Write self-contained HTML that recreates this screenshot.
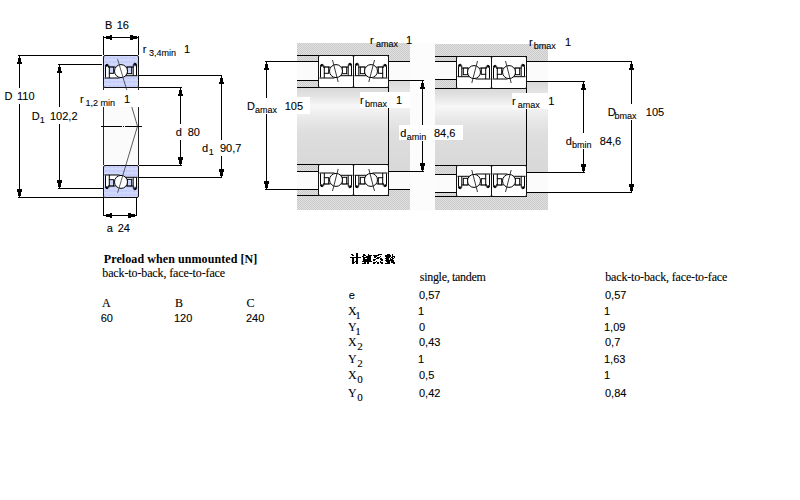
<!DOCTYPE html>
<html><head><meta charset="utf-8">
<style>
html,body{margin:0;padding:0;background:#fff;width:800px;height:500px;overflow:hidden}
svg{position:absolute;left:0;top:0}
.t{position:absolute;white-space:nowrap;color:#000;line-height:1}
.sf{font-family:"Liberation Serif",serif;font-size:12px}
.ss{font-family:"Liberation Sans",sans-serif;font-size:11px}
</style></head><body>
<svg width="800" height="500" viewBox="0 0 800 500" shape-rendering="crispEdges" text-rendering="optimizeSpeed">
<defs>
<pattern id="lav" x="0" y="0" width="4" height="4" patternUnits="userSpaceOnUse"><rect width="4" height="4" fill="#cfcffc"/><rect width="1" height="1" fill="#c4fcfc"/><rect x="2" y="2" width="1" height="1" fill="#9cc8fc"/><rect x="2" y="0" width="1" height="1" fill="#dcf4fc"/></pattern>
<pattern id="chk" x="0" y="0" width="2" height="2" patternUnits="userSpaceOnUse"><rect width="2" height="2" fill="#e0e0e0"/><rect width="1" height="1" fill="#cbcbcb"/><rect x="1" y="1" width="1" height="1" fill="#cbcbcb"/></pattern>
<linearGradient id="shaft" x1="0" y1="0" x2="0" y2="1">
<stop offset="0" stop-color="#d8d8d8"/><stop offset="0.1" stop-color="#e2e2e2"/><stop offset="0.24" stop-color="#f7f7f7"/><stop offset="0.4" stop-color="#e9e9e9"/><stop offset="0.58" stop-color="#dedede"/><stop offset="1" stop-color="#d8d8d8"/>
</linearGradient>
</defs>
<line x1="18" y1="55.5" x2="102" y2="55.5" stroke="#000" stroke-width="1" />
<line x1="19.5" y1="56" x2="19.5" y2="88" stroke="#000" stroke-width="1" />
<line x1="19.5" y1="104" x2="19.5" y2="197" stroke="#000" stroke-width="1" />
<line x1="18" y1="197.5" x2="103" y2="197.5" stroke="#000" stroke-width="1" />
<polygon points="19.0,56.0 20.0,56.0 20.0,57.5 21.0,57.5 21.0,61.5 22.0,61.5 22.0,64.0 17.0,64.0 17.0,61.5 18.0,61.5 18.0,57.5 19.0,57.5" fill="#000"/>
<polygon points="19.0,197.0 20.0,197.0 20.0,195.5 21.0,195.5 21.0,191.5 22.0,191.5 22.0,189.0 17.0,189.0 17.0,191.5 18.0,191.5 18.0,195.5 19.0,195.5" fill="#000"/>
<line x1="58" y1="64.5" x2="102" y2="64.5" stroke="#000" stroke-width="1" />
<line x1="59.5" y1="65" x2="59.5" y2="107" stroke="#000" stroke-width="1" />
<line x1="59.5" y1="124" x2="59.5" y2="188" stroke="#000" stroke-width="1" />
<line x1="58" y1="188.5" x2="103" y2="188.5" stroke="#000" stroke-width="1" />
<polygon points="59.0,65.0 60.0,65.0 60.0,66.5 61.0,66.5 61.0,70.5 62.0,70.5 62.0,73.0 57.0,73.0 57.0,70.5 58.0,70.5 58.0,66.5 59.0,66.5" fill="#000"/>
<polygon points="59.0,188.0 60.0,188.0 60.0,186.5 61.0,186.5 61.0,182.5 62.0,182.5 62.0,180.0 57.0,180.0 57.0,182.5 58.0,182.5 58.0,186.5 59.0,186.5" fill="#000"/>
<line x1="103.5" y1="36" x2="103.5" y2="55" stroke="#000" stroke-width="1" />
<line x1="138.5" y1="36" x2="138.5" y2="55" stroke="#000" stroke-width="1" />
<line x1="104" y1="37.5" x2="138" y2="37.5" stroke="#000" stroke-width="1" />
<polygon points="104.0,37.0 104.0,38.0 105.5,38.0 105.5,39.0 109.5,39.0 109.5,40.0 112.0,40.0 112.0,35.0 109.5,35.0 109.5,36.0 105.5,36.0 105.5,37.0" fill="#000"/>
<polygon points="138.0,37.0 138.0,38.0 136.5,38.0 136.5,39.0 132.5,39.0 132.5,40.0 130.0,40.0 130.0,35.0 132.5,35.0 132.5,36.0 136.5,36.0 136.5,37.0" fill="#000"/>
<rect x="104" y="88" width="34" height="77" fill="#fbfbfb" />
<line x1="103.5" y1="87" x2="103.5" y2="165" stroke="#222" stroke-width="1" />
<line x1="138.5" y1="87" x2="138.5" y2="165" stroke="#222" stroke-width="1" />
<line x1="101" y1="126.5" x2="122" y2="126.5" stroke="#000" stroke-width="1" />
<line x1="123" y1="126.5" x2="124" y2="126.5" stroke="#000" stroke-width="1" />
<line x1="125" y1="126.5" x2="142" y2="126.5" stroke="#000" stroke-width="1" />
<line x1="103.5" y1="197" x2="103.5" y2="216" stroke="#000" stroke-width="1" />
<line x1="136.5" y1="197" x2="136.5" y2="216" stroke="#000" stroke-width="1" />
<line x1="104" y1="215.5" x2="136" y2="215.5" stroke="#000" stroke-width="1" />
<polygon points="104.0,215.0 104.0,216.0 105.5,216.0 105.5,217.0 109.5,217.0 109.5,218.0 112.0,218.0 112.0,213.0 109.5,213.0 109.5,214.0 105.5,214.0 105.5,215.0" fill="#000"/>
<polygon points="136.0,215.0 136.0,216.0 134.5,216.0 134.5,217.0 130.5,217.0 130.5,218.0 128.0,218.0 128.0,213.0 130.5,213.0 130.5,214.0 134.5,214.0 134.5,215.0" fill="#000"/>
<line x1="139" y1="75.5" x2="222" y2="75.5" stroke="#000" stroke-width="1" />
<line x1="221.5" y1="76" x2="221.5" y2="140" stroke="#000" stroke-width="1" />
<line x1="221.5" y1="156" x2="221.5" y2="177" stroke="#000" stroke-width="1" />
<line x1="139" y1="177.5" x2="222" y2="177.5" stroke="#000" stroke-width="1" />
<polygon points="221.0,76.0 222.0,76.0 222.0,77.5 223.0,77.5 223.0,81.5 224.0,81.5 224.0,84.0 219.0,84.0 219.0,81.5 220.0,81.5 220.0,77.5 221.0,77.5" fill="#000"/>
<polygon points="221.0,177.0 222.0,177.0 222.0,175.5 223.0,175.5 223.0,171.5 224.0,171.5 224.0,169.0 219.0,169.0 219.0,171.5 220.0,171.5 220.0,175.5 221.0,175.5" fill="#000"/>
<line x1="139" y1="87.5" x2="182" y2="87.5" stroke="#000" stroke-width="1" />
<line x1="180.5" y1="88" x2="180.5" y2="124" stroke="#000" stroke-width="1" />
<line x1="180.5" y1="140" x2="180.5" y2="165" stroke="#000" stroke-width="1" />
<line x1="139" y1="165.5" x2="182" y2="165.5" stroke="#000" stroke-width="1" />
<polygon points="180.0,88.0 181.0,88.0 181.0,89.5 182.0,89.5 182.0,93.5 183.0,93.5 183.0,96.0 178.0,96.0 178.0,93.5 179.0,93.5 179.0,89.5 180.0,89.5" fill="#000"/>
<polygon points="180.0,165.0 181.0,165.0 181.0,163.5 182.0,163.5 182.0,159.5 183.0,159.5 183.0,157.0 178.0,157.0 178.0,159.5 179.0,159.5 179.0,163.5 180.0,163.5" fill="#000"/>
<g transform="translate(103.5,55.5)" shape-rendering="geometricPrecision">
<rect x="0" y="0" width="35" height="32" rx="1.5" fill="url(#lav)" stroke="#111" stroke-width="1"/>
<path d="M1,11.6 H17.5 V22.5 H1 Z M17.5,11.6 H34 V20.2 H17.5 Z" fill="#fff"/>
<path d="M4.5,11.6 H12 M23,11.6 H30 M1,22.5 H16 M20,20.2 H34" stroke="#000" stroke-width="1" fill="none"/>
<path d="M2,22 V11 Q2,8.6 4.2,8.8 Q5.6,9.6 5.3,11.6" stroke="#000" stroke-width="1" fill="none"/>
<circle cx="3.2" cy="10" r="1.3" fill="#000"/>
<path d="M33,20 V9.8 Q33,7.4 30.8,7.7 Q29.4,8.6 29.7,11.6 V20" stroke="#000" stroke-width="1" fill="none"/>
<circle cx="31.8" cy="9" r="1.3" fill="#000"/>
<rect x="5.8" y="11.6" width="4.4" height="6.2" fill="url(#lav)" stroke="#000" stroke-width="1"/>
<rect x="23.6" y="11.6" width="4.6" height="6.6" fill="url(#lav)" stroke="#000" stroke-width="1"/>
<path d="M5.8,17.8 V22.5" stroke="#000" stroke-width="1" fill="none"/>
<circle cx="17.5" cy="15.6" r="6.5" fill="#fff" stroke="#000" stroke-width="1"/>
</g>
<g transform="translate(103.5,165.5) translate(0,32) scale(1,-1)" shape-rendering="geometricPrecision">
<rect x="0" y="0" width="35" height="32" rx="1.5" fill="url(#lav)" stroke="#111" stroke-width="1"/>
<path d="M1,11.6 H17.5 V22.5 H1 Z M17.5,11.6 H34 V20.2 H17.5 Z" fill="#fff"/>
<path d="M4.5,11.6 H12 M23,11.6 H30 M1,22.5 H16 M20,20.2 H34" stroke="#000" stroke-width="1" fill="none"/>
<path d="M2,22 V11 Q2,8.6 4.2,8.8 Q5.6,9.6 5.3,11.6" stroke="#000" stroke-width="1" fill="none"/>
<circle cx="3.2" cy="10" r="1.3" fill="#000"/>
<path d="M33,20 V9.8 Q33,7.4 30.8,7.7 Q29.4,8.6 29.7,11.6 V20" stroke="#000" stroke-width="1" fill="none"/>
<circle cx="31.8" cy="9" r="1.3" fill="#000"/>
<rect x="5.8" y="11.6" width="4.4" height="6.2" fill="url(#lav)" stroke="#000" stroke-width="1"/>
<rect x="23.6" y="11.6" width="4.6" height="6.6" fill="url(#lav)" stroke="#000" stroke-width="1"/>
<path d="M5.8,17.8 V22.5" stroke="#000" stroke-width="1" fill="none"/>
<circle cx="17.5" cy="15.6" r="6.5" fill="#fff" stroke="#000" stroke-width="1"/>
</g>
<polyline points="117.6,59.2 137.5,126.2 117.6,192.8" fill="none" stroke="#333" stroke-width="0.8" shape-rendering="geometricPrecision"/>
<rect x="100" y="90" width="40" height="17" fill="#fff" />
<text x="104.9" y="29" font-family="Liberation Sans" font-size="11" font-weight="normal" stroke="#000" stroke-width="0.1" >B</text>
<text x="116.75" y="29" font-family="Liberation Sans" font-size="11" font-weight="normal" stroke="#000" stroke-width="0.1" >16</text>
<text x="142.8" y="53" font-family="Liberation Sans" font-size="11" font-weight="normal" stroke="#000" stroke-width="0.1" >r</text>
<text x="148.9" y="56" font-family="Liberation Sans" font-size="9" font-weight="normal" stroke="#000" stroke-width="0.1" >3,4min</text>
<text x="184" y="53" font-family="Liberation Sans" font-size="11" font-weight="normal" stroke="#000" stroke-width="0.1" >1</text>
<text x="4.5" y="100" font-family="Liberation Sans" font-size="11" font-weight="normal" stroke="#000" stroke-width="0.1" >D</text>
<text x="17" y="100" font-family="Liberation Sans" font-size="11" font-weight="normal" stroke="#000" stroke-width="0.1" >110</text>
<text x="31.8" y="120" font-family="Liberation Sans" font-size="11" font-weight="normal" stroke="#000" stroke-width="0.1" >D</text>
<text x="39.7" y="123" font-family="Liberation Sans" font-size="9" font-weight="normal" stroke="#000" stroke-width="0.1" >1</text>
<text x="50" y="120" font-family="Liberation Sans" font-size="11" font-weight="normal" stroke="#000" stroke-width="0.1" >102,2</text>
<text x="79.9" y="103" font-family="Liberation Sans" font-size="11" font-weight="normal" stroke="#000" stroke-width="0.1" >r</text>
<text x="85.6" y="106" font-family="Liberation Sans" font-size="9" font-weight="normal" stroke="#000" stroke-width="0.1" >1,2 min</text>
<text x="124" y="103" font-family="Liberation Sans" font-size="11" font-weight="normal" stroke="#000" stroke-width="0.1" >1</text>
<text x="175.75" y="136" font-family="Liberation Sans" font-size="11" font-weight="normal" stroke="#000" stroke-width="0.1" >d</text>
<text x="187.75" y="136" font-family="Liberation Sans" font-size="11" font-weight="normal" stroke="#000" stroke-width="0.1" >80</text>
<text x="201.9" y="152" font-family="Liberation Sans" font-size="11" font-weight="normal" stroke="#000" stroke-width="0.1" >d</text>
<text x="208.75" y="155" font-family="Liberation Sans" font-size="9" font-weight="normal" stroke="#000" stroke-width="0.1" >1</text>
<text x="219.9" y="152" font-family="Liberation Sans" font-size="11" font-weight="normal" stroke="#000" stroke-width="0.1" >90,7</text>
<text x="106.75" y="232" font-family="Liberation Sans" font-size="11" font-weight="normal" stroke="#000" stroke-width="0.1" >a</text>
<text x="117.75" y="232" font-family="Liberation Sans" font-size="11" font-weight="normal" stroke="#000" stroke-width="0.1" >24</text>
<rect x="410" y="43" width="25" height="167" fill="#fcfcfc" />
<rect x="297" y="43" width="113" height="12.5" fill="url(#chk)" />
<rect x="297" y="55.5" width="21.5" height="6" fill="url(#chk)" />
<rect x="388.5" y="55.5" width="21.5" height="6" fill="url(#chk)" />
<rect x="297" y="80.5" width="21.5" height="7" fill="url(#chk)" />
<rect x="297" y="61.5" width="21.5" height="19" fill="#fbfbfb" />
<rect x="388.5" y="61.5" width="21.5" height="19" fill="#fbfbfb" />
<rect x="297" y="87.5" width="91.5" height="77" fill="url(#shaft)" />
<rect x="388.5" y="80.5" width="21.5" height="91" fill="url(#shaft)" />
<rect x="297" y="164.5" width="21.5" height="7" fill="url(#chk)" />
<rect x="297" y="171.5" width="21.5" height="18" fill="#fbfbfb" />
<rect x="388.5" y="171.5" width="21.5" height="18" fill="#fbfbfb" />
<rect x="297" y="189.5" width="21.5" height="6" fill="url(#chk)" />
<rect x="388.5" y="189.5" width="21.5" height="6" fill="url(#chk)" />
<rect x="297" y="195.5" width="113" height="14" fill="url(#chk)" />
<line x1="297" y1="55.5" x2="389" y2="55.5" stroke="#000" stroke-width="1" />
<line x1="265" y1="61.5" x2="318.5" y2="61.5" stroke="#000" stroke-width="1" />
<line x1="388.5" y1="61.5" x2="410" y2="61.5" stroke="#000" stroke-width="1" />
<line x1="297" y1="80.5" x2="318.5" y2="80.5" stroke="#000" stroke-width="1" />
<line x1="388.5" y1="80.5" x2="424" y2="80.5" stroke="#000" stroke-width="1" />
<line x1="297" y1="87.5" x2="389" y2="87.5" stroke="#000" stroke-width="1" />
<line x1="388.5" y1="55" x2="388.5" y2="172" stroke="#000" stroke-width="1" />
<line x1="297" y1="164.5" x2="389" y2="164.5" stroke="#000" stroke-width="1" />
<line x1="297" y1="171.5" x2="318.5" y2="171.5" stroke="#000" stroke-width="1" />
<line x1="388.5" y1="171.5" x2="424" y2="171.5" stroke="#000" stroke-width="1" />
<line x1="265" y1="189.5" x2="318.5" y2="189.5" stroke="#000" stroke-width="1" />
<line x1="388.5" y1="189.5" x2="410" y2="189.5" stroke="#000" stroke-width="1" />
<line x1="297" y1="195.5" x2="389" y2="195.5" stroke="#000" stroke-width="1" />
<g transform="translate(318.5,55.5)" shape-rendering="geometricPrecision">
<rect x="0" y="0" width="35" height="32" rx="1.5" fill="#fff" stroke="#111" stroke-width="1"/>
<path d="M4.5,11.6 H12 M23,11.6 H30 M1,22.5 H16 M20,20.2 H34" stroke="#000" stroke-width="1" fill="none"/>
<path d="M2,22 V11 Q2,8.6 4.2,8.8 Q5.6,9.6 5.3,11.6" stroke="#000" stroke-width="1" fill="none"/>
<circle cx="3.2" cy="10" r="1.3" fill="#000"/>
<path d="M33,20 V9.8 Q33,7.4 30.8,7.7 Q29.4,8.6 29.7,11.6 V20" stroke="#000" stroke-width="1" fill="none"/>
<circle cx="31.8" cy="9" r="1.3" fill="#000"/>
<rect x="5.8" y="11.6" width="4.4" height="6.2" fill="#fff" stroke="#000" stroke-width="1"/>
<rect x="23.6" y="11.6" width="4.6" height="6.6" fill="#fff" stroke="#000" stroke-width="1"/>
<path d="M5.8,17.8 V22.5" stroke="#000" stroke-width="1" fill="none"/>
<circle cx="17.5" cy="15.6" r="6.5" fill="#fff" stroke="#000" stroke-width="1"/>
<line x1="14" y1="4.5" x2="19.7" y2="26.5" stroke="#222" stroke-width="0.9"/>
</g>
<g transform="translate(353.5,55.5) translate(35,0) scale(-1,1)" shape-rendering="geometricPrecision">
<rect x="0" y="0" width="35" height="32" rx="1.5" fill="#fff" stroke="#111" stroke-width="1"/>
<path d="M4.5,11.6 H12 M23,11.6 H30 M1,22.5 H16 M20,20.2 H34" stroke="#000" stroke-width="1" fill="none"/>
<path d="M2,22 V11 Q2,8.6 4.2,8.8 Q5.6,9.6 5.3,11.6" stroke="#000" stroke-width="1" fill="none"/>
<circle cx="3.2" cy="10" r="1.3" fill="#000"/>
<path d="M33,20 V9.8 Q33,7.4 30.8,7.7 Q29.4,8.6 29.7,11.6 V20" stroke="#000" stroke-width="1" fill="none"/>
<circle cx="31.8" cy="9" r="1.3" fill="#000"/>
<rect x="5.8" y="11.6" width="4.4" height="6.2" fill="#fff" stroke="#000" stroke-width="1"/>
<rect x="23.6" y="11.6" width="4.6" height="6.6" fill="#fff" stroke="#000" stroke-width="1"/>
<path d="M5.8,17.8 V22.5" stroke="#000" stroke-width="1" fill="none"/>
<circle cx="17.5" cy="15.6" r="6.5" fill="#fff" stroke="#000" stroke-width="1"/>
<line x1="14" y1="4.5" x2="19.7" y2="26.5" stroke="#222" stroke-width="0.9"/>
</g>
<g transform="translate(318.5,164.5) translate(0,31) scale(1,-1)" shape-rendering="geometricPrecision">
<rect x="0" y="0" width="35" height="31" rx="1.5" fill="#fff" stroke="#111" stroke-width="1"/>
<path d="M4.5,11.6 H12 M23,11.6 H30 M1,22.5 H16 M20,20.2 H34" stroke="#000" stroke-width="1" fill="none"/>
<path d="M2,22 V11 Q2,8.6 4.2,8.8 Q5.6,9.6 5.3,11.6" stroke="#000" stroke-width="1" fill="none"/>
<circle cx="3.2" cy="10" r="1.3" fill="#000"/>
<path d="M33,20 V9.8 Q33,7.4 30.8,7.7 Q29.4,8.6 29.7,11.6 V20" stroke="#000" stroke-width="1" fill="none"/>
<circle cx="31.8" cy="9" r="1.3" fill="#000"/>
<rect x="5.8" y="11.6" width="4.4" height="6.2" fill="#fff" stroke="#000" stroke-width="1"/>
<rect x="23.6" y="11.6" width="4.6" height="6.6" fill="#fff" stroke="#000" stroke-width="1"/>
<path d="M5.8,17.8 V22.5" stroke="#000" stroke-width="1" fill="none"/>
<circle cx="17.5" cy="15.6" r="6.5" fill="#fff" stroke="#000" stroke-width="1"/>
<line x1="14" y1="4.5" x2="19.7" y2="26.5" stroke="#222" stroke-width="0.9"/>
</g>
<g transform="translate(353.5,164.5) translate(0,31) scale(1,-1) translate(35,0) scale(-1,1)" shape-rendering="geometricPrecision">
<rect x="0" y="0" width="35" height="31" rx="1.5" fill="#fff" stroke="#111" stroke-width="1"/>
<path d="M4.5,11.6 H12 M23,11.6 H30 M1,22.5 H16 M20,20.2 H34" stroke="#000" stroke-width="1" fill="none"/>
<path d="M2,22 V11 Q2,8.6 4.2,8.8 Q5.6,9.6 5.3,11.6" stroke="#000" stroke-width="1" fill="none"/>
<circle cx="3.2" cy="10" r="1.3" fill="#000"/>
<path d="M33,20 V9.8 Q33,7.4 30.8,7.7 Q29.4,8.6 29.7,11.6 V20" stroke="#000" stroke-width="1" fill="none"/>
<circle cx="31.8" cy="9" r="1.3" fill="#000"/>
<rect x="5.8" y="11.6" width="4.4" height="6.2" fill="#fff" stroke="#000" stroke-width="1"/>
<rect x="23.6" y="11.6" width="4.6" height="6.6" fill="#fff" stroke="#000" stroke-width="1"/>
<path d="M5.8,17.8 V22.5" stroke="#000" stroke-width="1" fill="none"/>
<circle cx="17.5" cy="15.6" r="6.5" fill="#fff" stroke="#000" stroke-width="1"/>
<line x1="14" y1="4.5" x2="19.7" y2="26.5" stroke="#222" stroke-width="0.9"/>
</g>
<line x1="266.5" y1="62" x2="266.5" y2="97.5" stroke="#000" stroke-width="1" />
<line x1="266.5" y1="114" x2="266.5" y2="189" stroke="#000" stroke-width="1" />
<polygon points="266.0,62.0 267.0,62.0 267.0,63.5 268.0,63.5 268.0,67.5 269.0,67.5 269.0,70.0 264.0,70.0 264.0,67.5 265.0,67.5 265.0,63.5 266.0,63.5" fill="#000"/>
<polygon points="266.0,189.0 267.0,189.0 267.0,187.5 268.0,187.5 268.0,183.5 269.0,183.5 269.0,181.0 264.0,181.0 264.0,183.5 265.0,183.5 265.0,187.5 266.0,187.5" fill="#000"/>
<line x1="422.5" y1="81" x2="422.5" y2="128" stroke="#000" stroke-width="1" />
<line x1="422.5" y1="141" x2="422.5" y2="171" stroke="#000" stroke-width="1" />
<polygon points="422.0,81.0 423.0,81.0 423.0,82.5 424.0,82.5 424.0,86.5 425.0,86.5 425.0,89.0 420.0,89.0 420.0,86.5 421.0,86.5 421.0,82.5 422.0,82.5" fill="#000"/>
<polygon points="422.0,171.0 423.0,171.0 423.0,169.5 424.0,169.5 424.0,165.5 425.0,165.5 425.0,163.0 420.0,163.0 420.0,165.5 421.0,165.5 421.0,169.5 422.0,169.5" fill="#000"/>
<rect x="435" y="44" width="113" height="12.5" fill="url(#chk)" />
<rect x="435" y="56.5" width="21.5" height="5" fill="url(#chk)" />
<rect x="527" y="56.5" width="21" height="5" fill="url(#chk)" />
<rect x="435" y="61.5" width="21.5" height="18" fill="#fbfbfb" />
<rect x="527" y="61.5" width="21" height="20" fill="#fbfbfb" />
<rect x="435" y="79.5" width="21.5" height="8.5" fill="url(#chk)" />
<rect x="435" y="88" width="92" height="77" fill="url(#shaft)" />
<rect x="527" y="81.5" width="21" height="91" fill="url(#shaft)" />
<rect x="435" y="165.5" width="21.5" height="9" fill="url(#chk)" />
<rect x="435" y="174" width="21.5" height="18.5" fill="#fbfbfb" />
<rect x="527" y="172.5" width="21" height="19.5" fill="#fbfbfb" />
<rect x="435" y="192.5" width="21.5" height="4" fill="url(#chk)" />
<rect x="527" y="192" width="21" height="5" fill="url(#chk)" />
<rect x="435" y="196.5" width="113" height="13" fill="url(#chk)" />
<line x1="435" y1="56.5" x2="527" y2="56.5" stroke="#000" stroke-width="1" />
<line x1="435" y1="61.5" x2="456.5" y2="61.5" stroke="#000" stroke-width="1" />
<line x1="526.5" y1="61.5" x2="632" y2="61.5" stroke="#000" stroke-width="1" />
<line x1="435" y1="79.5" x2="456.5" y2="79.5" stroke="#000" stroke-width="1" />
<line x1="526.5" y1="81.5" x2="585" y2="81.5" stroke="#000" stroke-width="1" />
<line x1="435" y1="88.5" x2="527" y2="88.5" stroke="#000" stroke-width="1" />
<line x1="526.5" y1="56" x2="526.5" y2="172" stroke="#000" stroke-width="1" />
<line x1="435" y1="165.5" x2="527" y2="165.5" stroke="#000" stroke-width="1" />
<line x1="435" y1="174.5" x2="456.5" y2="174.5" stroke="#000" stroke-width="1" />
<line x1="526.5" y1="172.5" x2="585" y2="172.5" stroke="#000" stroke-width="1" />
<line x1="435" y1="192.5" x2="456.5" y2="192.5" stroke="#000" stroke-width="1" />
<line x1="526.5" y1="192.5" x2="632" y2="192.5" stroke="#000" stroke-width="1" />
<line x1="435" y1="196.5" x2="527" y2="196.5" stroke="#000" stroke-width="1" />
<g transform="translate(456.5,56.5) translate(35,0) scale(-1,1)" shape-rendering="geometricPrecision">
<rect x="0" y="0" width="35" height="32" rx="1.5" fill="#fff" stroke="#111" stroke-width="1"/>
<path d="M4.5,11.6 H12 M23,11.6 H30 M1,22.5 H16 M20,20.2 H34" stroke="#000" stroke-width="1" fill="none"/>
<path d="M2,22 V11 Q2,8.6 4.2,8.8 Q5.6,9.6 5.3,11.6" stroke="#000" stroke-width="1" fill="none"/>
<circle cx="3.2" cy="10" r="1.3" fill="#000"/>
<path d="M33,20 V9.8 Q33,7.4 30.8,7.7 Q29.4,8.6 29.7,11.6 V20" stroke="#000" stroke-width="1" fill="none"/>
<circle cx="31.8" cy="9" r="1.3" fill="#000"/>
<rect x="5.8" y="11.6" width="4.4" height="6.2" fill="#fff" stroke="#000" stroke-width="1"/>
<rect x="23.6" y="11.6" width="4.6" height="6.6" fill="#fff" stroke="#000" stroke-width="1"/>
<path d="M5.8,17.8 V22.5" stroke="#000" stroke-width="1" fill="none"/>
<circle cx="17.5" cy="15.6" r="6.5" fill="#fff" stroke="#000" stroke-width="1"/>
<line x1="14" y1="4.5" x2="19.7" y2="26.5" stroke="#222" stroke-width="0.9"/>
</g>
<g transform="translate(491.5,56.5)" shape-rendering="geometricPrecision">
<rect x="0" y="0" width="35" height="32" rx="1.5" fill="#fff" stroke="#111" stroke-width="1"/>
<path d="M4.5,11.6 H12 M23,11.6 H30 M1,22.5 H16 M20,20.2 H34" stroke="#000" stroke-width="1" fill="none"/>
<path d="M2,22 V11 Q2,8.6 4.2,8.8 Q5.6,9.6 5.3,11.6" stroke="#000" stroke-width="1" fill="none"/>
<circle cx="3.2" cy="10" r="1.3" fill="#000"/>
<path d="M33,20 V9.8 Q33,7.4 30.8,7.7 Q29.4,8.6 29.7,11.6 V20" stroke="#000" stroke-width="1" fill="none"/>
<circle cx="31.8" cy="9" r="1.3" fill="#000"/>
<rect x="5.8" y="11.6" width="4.4" height="6.2" fill="#fff" stroke="#000" stroke-width="1"/>
<rect x="23.6" y="11.6" width="4.6" height="6.6" fill="#fff" stroke="#000" stroke-width="1"/>
<path d="M5.8,17.8 V22.5" stroke="#000" stroke-width="1" fill="none"/>
<circle cx="17.5" cy="15.6" r="6.5" fill="#fff" stroke="#000" stroke-width="1"/>
<line x1="14" y1="4.5" x2="19.7" y2="26.5" stroke="#222" stroke-width="0.9"/>
</g>
<g transform="translate(456.5,165.5) translate(0,31) scale(1,-1) translate(35,0) scale(-1,1)" shape-rendering="geometricPrecision">
<rect x="0" y="0" width="35" height="31" rx="1.5" fill="#fff" stroke="#111" stroke-width="1"/>
<path d="M4.5,11.6 H12 M23,11.6 H30 M1,22.5 H16 M20,20.2 H34" stroke="#000" stroke-width="1" fill="none"/>
<path d="M2,22 V11 Q2,8.6 4.2,8.8 Q5.6,9.6 5.3,11.6" stroke="#000" stroke-width="1" fill="none"/>
<circle cx="3.2" cy="10" r="1.3" fill="#000"/>
<path d="M33,20 V9.8 Q33,7.4 30.8,7.7 Q29.4,8.6 29.7,11.6 V20" stroke="#000" stroke-width="1" fill="none"/>
<circle cx="31.8" cy="9" r="1.3" fill="#000"/>
<rect x="5.8" y="11.6" width="4.4" height="6.2" fill="#fff" stroke="#000" stroke-width="1"/>
<rect x="23.6" y="11.6" width="4.6" height="6.6" fill="#fff" stroke="#000" stroke-width="1"/>
<path d="M5.8,17.8 V22.5" stroke="#000" stroke-width="1" fill="none"/>
<circle cx="17.5" cy="15.6" r="6.5" fill="#fff" stroke="#000" stroke-width="1"/>
<line x1="14" y1="4.5" x2="19.7" y2="26.5" stroke="#222" stroke-width="0.9"/>
</g>
<g transform="translate(491.5,165.5) translate(0,31) scale(1,-1)" shape-rendering="geometricPrecision">
<rect x="0" y="0" width="35" height="31" rx="1.5" fill="#fff" stroke="#111" stroke-width="1"/>
<path d="M4.5,11.6 H12 M23,11.6 H30 M1,22.5 H16 M20,20.2 H34" stroke="#000" stroke-width="1" fill="none"/>
<path d="M2,22 V11 Q2,8.6 4.2,8.8 Q5.6,9.6 5.3,11.6" stroke="#000" stroke-width="1" fill="none"/>
<circle cx="3.2" cy="10" r="1.3" fill="#000"/>
<path d="M33,20 V9.8 Q33,7.4 30.8,7.7 Q29.4,8.6 29.7,11.6 V20" stroke="#000" stroke-width="1" fill="none"/>
<circle cx="31.8" cy="9" r="1.3" fill="#000"/>
<rect x="5.8" y="11.6" width="4.4" height="6.2" fill="#fff" stroke="#000" stroke-width="1"/>
<rect x="23.6" y="11.6" width="4.6" height="6.6" fill="#fff" stroke="#000" stroke-width="1"/>
<path d="M5.8,17.8 V22.5" stroke="#000" stroke-width="1" fill="none"/>
<circle cx="17.5" cy="15.6" r="6.5" fill="#fff" stroke="#000" stroke-width="1"/>
<line x1="14" y1="4.5" x2="19.7" y2="26.5" stroke="#222" stroke-width="0.9"/>
</g>
<line x1="631.5" y1="62" x2="631.5" y2="104" stroke="#000" stroke-width="1" />
<line x1="631.5" y1="120" x2="631.5" y2="192" stroke="#000" stroke-width="1" />
<polygon points="631.0,62.0 632.0,62.0 632.0,63.5 633.0,63.5 633.0,67.5 634.0,67.5 634.0,70.0 629.0,70.0 629.0,67.5 630.0,67.5 630.0,63.5 631.0,63.5" fill="#000"/>
<polygon points="631.0,192.0 632.0,192.0 632.0,190.5 633.0,190.5 633.0,186.5 634.0,186.5 634.0,184.0 629.0,184.0 629.0,186.5 630.0,186.5 630.0,190.5 631.0,190.5" fill="#000"/>
<line x1="583.5" y1="82" x2="583.5" y2="133" stroke="#000" stroke-width="1" />
<line x1="583.5" y1="149" x2="583.5" y2="172" stroke="#000" stroke-width="1" />
<polygon points="583.0,82.0 584.0,82.0 584.0,83.5 585.0,83.5 585.0,87.5 586.0,87.5 586.0,90.0 581.0,90.0 581.0,87.5 582.0,87.5 582.0,83.5 583.0,83.5" fill="#000"/>
<polygon points="583.0,172.0 584.0,172.0 584.0,170.5 585.0,170.5 585.0,166.5 586.0,166.5 586.0,164.0 581.0,164.0 581.0,166.5 582.0,166.5 582.0,170.5 583.0,170.5" fill="#000"/>
<rect x="280" y="97" width="30" height="17" fill="#fff" />
<rect x="360" y="92" width="50" height="16" fill="#fff" />
<rect x="399" y="125" width="64" height="15" fill="#fff" />
<rect x="512" y="93" width="44" height="16" fill="#fff" />
<text x="369.9" y="44" font-family="Liberation Sans" font-size="11" font-weight="normal" stroke="#000" stroke-width="0.1" >r</text>
<text x="375.9" y="47" font-family="Liberation Sans" font-size="9" font-weight="normal" stroke="#000" stroke-width="0.1" >amax</text>
<text x="405.9" y="44" font-family="Liberation Sans" font-size="11" font-weight="normal" stroke="#000" stroke-width="0.1" >1</text>
<text x="528.9" y="46" font-family="Liberation Sans" font-size="11" font-weight="normal" stroke="#000" stroke-width="0.1" >r</text>
<text x="533.7" y="49" font-family="Liberation Sans" font-size="9" font-weight="normal" stroke="#000" stroke-width="0.1" >bmax</text>
<text x="564.9" y="46" font-family="Liberation Sans" font-size="11" font-weight="normal" stroke="#000" stroke-width="0.1" >1</text>
<text x="247" y="110" font-family="Liberation Sans" font-size="11" font-weight="normal" stroke="#000" stroke-width="0.1" >D</text>
<text x="255" y="113" font-family="Liberation Sans" font-size="9" font-weight="normal" stroke="#000" stroke-width="0.1" >amax</text>
<text x="284.7" y="110" font-family="Liberation Sans" font-size="11" font-weight="normal" stroke="#000" stroke-width="0.1" >105</text>
<text x="360" y="104" font-family="Liberation Sans" font-size="11" font-weight="normal" stroke="#000" stroke-width="0.1" >r</text>
<text x="364.9" y="107" font-family="Liberation Sans" font-size="9" font-weight="normal" stroke="#000" stroke-width="0.1" >bmax</text>
<text x="396" y="104" font-family="Liberation Sans" font-size="11" font-weight="normal" stroke="#000" stroke-width="0.1" >1</text>
<text x="400.2" y="137" font-family="Liberation Sans" font-size="11" font-weight="normal" stroke="#000" stroke-width="0.1" >d</text>
<text x="406.7" y="140" font-family="Liberation Sans" font-size="9" font-weight="normal" stroke="#000" stroke-width="0.1" >amin</text>
<text x="433.9" y="137" font-family="Liberation Sans" font-size="11" font-weight="normal" stroke="#000" stroke-width="0.1" >84,6</text>
<text x="511.9" y="105" font-family="Liberation Sans" font-size="11" font-weight="normal" stroke="#000" stroke-width="0.1" >r</text>
<text x="517.75" y="108" font-family="Liberation Sans" font-size="9" font-weight="normal" stroke="#000" stroke-width="0.1" >amax</text>
<text x="548.25" y="105" font-family="Liberation Sans" font-size="11" font-weight="normal" stroke="#000" stroke-width="0.1" >1</text>
<text x="607.75" y="116" font-family="Liberation Sans" font-size="11" font-weight="normal" stroke="#000" stroke-width="0.1" >D</text>
<text x="614.6" y="119" font-family="Liberation Sans" font-size="9" font-weight="normal" stroke="#000" stroke-width="0.1" >bmax</text>
<text x="645.8" y="116" font-family="Liberation Sans" font-size="11" font-weight="normal" stroke="#000" stroke-width="0.1" >105</text>
<text x="565.7" y="145" font-family="Liberation Sans" font-size="11" font-weight="normal" stroke="#000" stroke-width="0.1" >d</text>
<text x="572" y="148" font-family="Liberation Sans" font-size="9" font-weight="normal" stroke="#000" stroke-width="0.1" >bmin</text>
<text x="599.8" y="145" font-family="Liberation Sans" font-size="11" font-weight="normal" stroke="#000" stroke-width="0.1" >84,6</text>
<text x="103.85" y="263" font-family="Liberation Serif" font-size="12" font-weight="bold" letter-spacing="0.08">Preload when unmounted [N]</text>
<text x="102.25" y="277" font-family="Liberation Serif" font-size="12" font-weight="normal" stroke="#000" stroke-width="0.1" letter-spacing="-0.12">back-to-back, face-to-face</text>
<text x="101.9" y="307" font-family="Liberation Serif" font-size="12" font-weight="normal" stroke="#000" stroke-width="0.1" >A</text>
<text x="175" y="307" font-family="Liberation Serif" font-size="12" font-weight="normal" stroke="#000" stroke-width="0.1" >B</text>
<text x="246.5" y="307" font-family="Liberation Serif" font-size="12" font-weight="normal" stroke="#000" stroke-width="0.1" >C</text>
<text x="100.7" y="322" font-family="Liberation Sans" font-size="11" font-weight="normal" stroke="#000" stroke-width="0.1" >60</text>
<text x="174" y="322" font-family="Liberation Sans" font-size="11" font-weight="normal" stroke="#000" stroke-width="0.1" >120</text>
<text x="246" y="322" font-family="Liberation Sans" font-size="11" font-weight="normal" stroke="#000" stroke-width="0.1" >240</text>
<text x="419.8" y="281" font-family="Liberation Serif" font-size="12" font-weight="normal" stroke="#000" stroke-width="0.1" letter-spacing="-0.3">single, tandem</text>
<text x="605.2" y="281" font-family="Liberation Serif" font-size="12" font-weight="normal" stroke="#000" stroke-width="0.1" letter-spacing="-0.15">back-to-back, face-to-face</text>
<text x="348.7" y="299" font-family="Liberation Sans" font-size="11" font-weight="normal" stroke="#000" stroke-width="0.1" >e</text>
<text x="419" y="299" font-family="Liberation Sans" font-size="11" font-weight="normal" stroke="#000" stroke-width="0.1" >0,57</text>
<text x="605" y="299" font-family="Liberation Sans" font-size="11" font-weight="normal" stroke="#000" stroke-width="0.1" >0,57</text>
<text x="348" y="315" font-family="Liberation Serif" font-size="12" font-weight="normal" stroke="#000" stroke-width="0.1" >X</text>
<text x="355.2" y="318.8" font-family="Liberation Serif" font-size="11" font-weight="normal" stroke="#000" stroke-width="0.1" >1</text>
<text x="418" y="315" font-family="Liberation Sans" font-size="11" font-weight="normal" stroke="#000" stroke-width="0.1" >1</text>
<text x="604" y="315" font-family="Liberation Sans" font-size="11" font-weight="normal" stroke="#000" stroke-width="0.1" >1</text>
<text x="348" y="331" font-family="Liberation Serif" font-size="12" font-weight="normal" stroke="#000" stroke-width="0.1" >Y</text>
<text x="355.2" y="334.8" font-family="Liberation Serif" font-size="11" font-weight="normal" stroke="#000" stroke-width="0.1" >1</text>
<text x="419" y="331" font-family="Liberation Sans" font-size="11" font-weight="normal" stroke="#000" stroke-width="0.1" >0</text>
<text x="604" y="331" font-family="Liberation Sans" font-size="11" font-weight="normal" stroke="#000" stroke-width="0.1" >1,09</text>
<text x="348" y="346" font-family="Liberation Serif" font-size="12" font-weight="normal" stroke="#000" stroke-width="0.1" >X</text>
<text x="357.2" y="349.8" font-family="Liberation Serif" font-size="11" font-weight="normal" stroke="#000" stroke-width="0.1" >2</text>
<text x="419" y="346" font-family="Liberation Sans" font-size="11" font-weight="normal" stroke="#000" stroke-width="0.1" >0,43</text>
<text x="605" y="346" font-family="Liberation Sans" font-size="11" font-weight="normal" stroke="#000" stroke-width="0.1" >0,7</text>
<text x="348" y="363" font-family="Liberation Serif" font-size="12" font-weight="normal" stroke="#000" stroke-width="0.1" >Y</text>
<text x="357.2" y="366.8" font-family="Liberation Serif" font-size="11" font-weight="normal" stroke="#000" stroke-width="0.1" >2</text>
<text x="418" y="363" font-family="Liberation Sans" font-size="11" font-weight="normal" stroke="#000" stroke-width="0.1" >1</text>
<text x="604" y="363" font-family="Liberation Sans" font-size="11" font-weight="normal" stroke="#000" stroke-width="0.1" >1,63</text>
<text x="348" y="379" font-family="Liberation Serif" font-size="12" font-weight="normal" stroke="#000" stroke-width="0.1" >X</text>
<text x="357.2" y="382.8" font-family="Liberation Serif" font-size="11" font-weight="normal" stroke="#000" stroke-width="0.1" >0</text>
<text x="419" y="379" font-family="Liberation Sans" font-size="11" font-weight="normal" stroke="#000" stroke-width="0.1" >0,5</text>
<text x="604" y="379" font-family="Liberation Sans" font-size="11" font-weight="normal" stroke="#000" stroke-width="0.1" >1</text>
<text x="348" y="397" font-family="Liberation Serif" font-size="12" font-weight="normal" stroke="#000" stroke-width="0.1" >Y</text>
<text x="357.2" y="400.8" font-family="Liberation Serif" font-size="11" font-weight="normal" stroke="#000" stroke-width="0.1" >0</text>
<text x="419" y="397" font-family="Liberation Sans" font-size="11" font-weight="normal" stroke="#000" stroke-width="0.1" >0,42</text>
<text x="605" y="397" font-family="Liberation Sans" font-size="11" font-weight="normal" stroke="#000" stroke-width="0.1" >0,84</text>
<rect x="356" y="253" width="2" height="1" fill="#000"/>
<rect x="351" y="254" width="2" height="1" fill="#000"/>
<rect x="356" y="254" width="2" height="1" fill="#000"/>
<rect x="352" y="255" width="2" height="1" fill="#000"/>
<rect x="356" y="255" width="2" height="1" fill="#000"/>
<rect x="356" y="256" width="2" height="1" fill="#000"/>
<rect x="350" y="257" width="11" height="1" fill="#000"/>
<rect x="352" y="258" width="2" height="1" fill="#000"/>
<rect x="356" y="258" width="2" height="1" fill="#000"/>
<rect x="352" y="259" width="2" height="1" fill="#000"/>
<rect x="356" y="259" width="2" height="1" fill="#000"/>
<rect x="352" y="260" width="2" height="1" fill="#000"/>
<rect x="356" y="260" width="2" height="1" fill="#000"/>
<rect x="352" y="261" width="2" height="1" fill="#000"/>
<rect x="355" y="261" width="3" height="1" fill="#000"/>
<rect x="352" y="262" width="3" height="1" fill="#000"/>
<rect x="356" y="262" width="2" height="1" fill="#000"/>
<rect x="352" y="263" width="2" height="1" fill="#000"/>
<rect x="356" y="263" width="2" height="1" fill="#000"/>
<rect x="363" y="254" width="2" height="1" fill="#000"/>
<rect x="368" y="254" width="1" height="1" fill="#000"/>
<rect x="363" y="255" width="3" height="1" fill="#000"/>
<rect x="368" y="255" width="4" height="1" fill="#000"/>
<rect x="362" y="256" width="2" height="1" fill="#000"/>
<rect x="366" y="256" width="5" height="1" fill="#000"/>
<rect x="363" y="257" width="8" height="1" fill="#000"/>
<rect x="363" y="258" width="2" height="1" fill="#000"/>
<rect x="367" y="258" width="4" height="1" fill="#000"/>
<rect x="363" y="259" width="8" height="1" fill="#000"/>
<rect x="363" y="260" width="8" height="1" fill="#000"/>
<rect x="362" y="261" width="10" height="1" fill="#000"/>
<rect x="364" y="262" width="2" height="1" fill="#000"/>
<rect x="367" y="262" width="2" height="1" fill="#000"/>
<rect x="362" y="263" width="4" height="1" fill="#000"/>
<rect x="367" y="263" width="2" height="1" fill="#000"/>
<rect x="378" y="254" width="4" height="1" fill="#000"/>
<rect x="373" y="255" width="6" height="1" fill="#000"/>
<rect x="374" y="256" width="3" height="1" fill="#000"/>
<rect x="380" y="256" width="1" height="1" fill="#000"/>
<rect x="374" y="257" width="2" height="1" fill="#000"/>
<rect x="377" y="257" width="3" height="1" fill="#000"/>
<rect x="376" y="258" width="3" height="1" fill="#000"/>
<rect x="380" y="258" width="2" height="1" fill="#000"/>
<rect x="373" y="259" width="3" height="1" fill="#000"/>
<rect x="380" y="259" width="3" height="1" fill="#000"/>
<rect x="373" y="260" width="2" height="1" fill="#000"/>
<rect x="381" y="260" width="2" height="1" fill="#000"/>
<rect x="376" y="261" width="1" height="1" fill="#000"/>
<rect x="380" y="261" width="1" height="1" fill="#000"/>
<rect x="373" y="262" width="3" height="1" fill="#000"/>
<rect x="377" y="262" width="2" height="1" fill="#000"/>
<rect x="380" y="262" width="3" height="1" fill="#000"/>
<rect x="373" y="263" width="2" height="1" fill="#000"/>
<rect x="377" y="263" width="2" height="1" fill="#000"/>
<rect x="381" y="263" width="2" height="1" fill="#000"/>
<rect x="387" y="254" width="3" height="1" fill="#000"/>
<rect x="392" y="254" width="1" height="1" fill="#000"/>
<rect x="385" y="255" width="6" height="1" fill="#000"/>
<rect x="392" y="255" width="1" height="1" fill="#000"/>
<rect x="385" y="256" width="6" height="1" fill="#000"/>
<rect x="392" y="256" width="3" height="1" fill="#000"/>
<rect x="386" y="257" width="4" height="1" fill="#000"/>
<rect x="391" y="257" width="2" height="1" fill="#000"/>
<rect x="394" y="257" width="1" height="1" fill="#000"/>
<rect x="385" y="258" width="4" height="1" fill="#000"/>
<rect x="390" y="258" width="1" height="1" fill="#000"/>
<rect x="392" y="258" width="2" height="1" fill="#000"/>
<rect x="386" y="259" width="3" height="1" fill="#000"/>
<rect x="390" y="259" width="3" height="1" fill="#000"/>
<rect x="385" y="260" width="6" height="1" fill="#000"/>
<rect x="391" y="260" width="3" height="1" fill="#000"/>
<rect x="386" y="261" width="4" height="1" fill="#000"/>
<rect x="391" y="261" width="3" height="1" fill="#000"/>
<rect x="387" y="262" width="3" height="1" fill="#000"/>
<rect x="391" y="262" width="4" height="1" fill="#000"/>
<rect x="385" y="263" width="5" height="1" fill="#000"/>
<rect x="393" y="263" width="2" height="1" fill="#000"/>
</svg>

</body></html>
